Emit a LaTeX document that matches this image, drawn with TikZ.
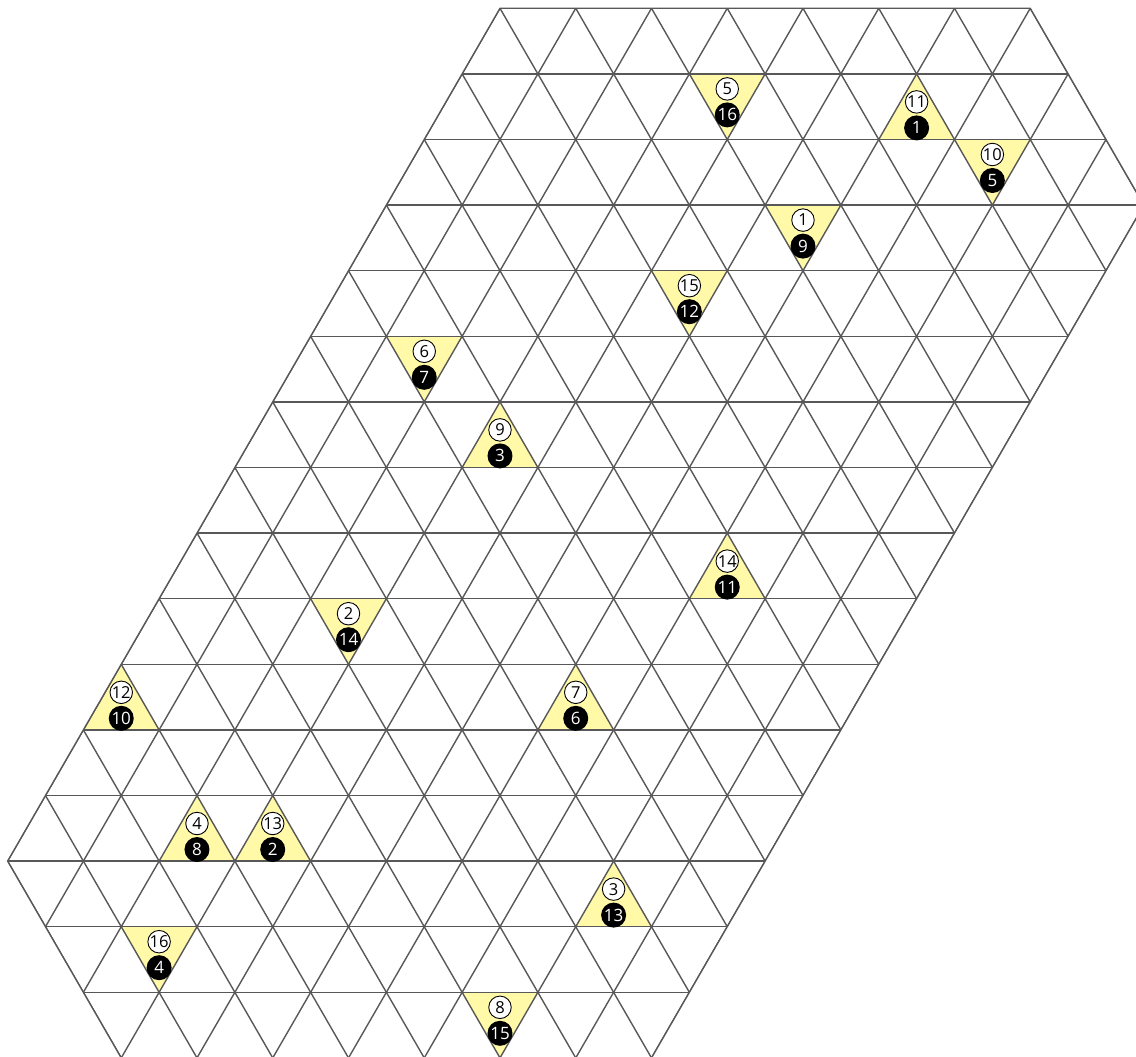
\documentclass[tikz,border=0pt]{standalone}
\usepackage{fontspec}
\setmainfont{Open Sans}
\newfontfamily\numfont{Open Sans}
\definecolor{trifill}{RGB}{255,249,168}
\definecolor{gridcol}{RGB}{88,88,88}
\tikzset{
  gridline/.style={draw=gridcol, line width=1.4pt},
  tri/.style={fill=trifill},
  wc/.style={circle, draw=black, line width=0.9pt, fill=white, minimum size=22.5pt, inner sep=0pt, font=\numfont\fontsize{16.5}{18}\selectfont},
  bc/.style={circle, fill=black, text=white, minimum size=25pt, inner sep=0pt, font=\numfont\fontsize{17}{18}\selectfont}
}
\begin{document}
\begin{tikzpicture}[x={(75.75pt,0pt)}, y={(-37.875pt,-65.6pt)}]
\path[use as bounding box] (-500pt,8.3pt) rectangle (636pt,-1048.7pt);
\coordinate (V1) at (0,0);
\coordinate (V2) at (7,0);
\coordinate (V3) at (10,3);
\coordinate (V4) at (10,16);
\coordinate (V5) at (3,16);
\coordinate (V6) at (0,13);
% yellow triangles
\foreach \a/\j in {3/1,7/2,5/3,4/4,1/5,2/9,2/14,7/15}
  \fill[tri] (\a,\j) -- ({\a+1},\j) -- ({\a+1},{\j+1}) -- cycle;
\foreach \a/\j in {6/1,3/6,7/8,0/10,6/10,2/12,3/12,8/13}
  \fill[tri] (\a,\j) -- (\a,{\j+1}) -- ({\a+1},{\j+1}) -- cycle;
% grid
\begin{scope}
\clip (V1)--(V2)--(V3)--(V4)--(V5)--(V6)--cycle;
\foreach \j in {0,...,16} \draw[gridline] (-10,\j) -- (25,\j);
\foreach \a in {0,...,10} \draw[gridline] (\a,-1) -- (\a,17);
\foreach \d in {-13,...,7} \draw[gridline] ({\d-1},-1) -- ({\d+17},17);
\end{scope}
\draw[gridline, line join=miter] (V1)--(V2)--(V3)--(V4)--(V5)--(V6)--cycle;
% labels, down triangles
\foreach \a/\j/\w/\b [count=\k] in {3/1/5/16,7/2/10/5,5/3/1/9,4/4/15/12,1/5/6/7,2/9/2/14,2/14/16/4,7/15/8/15}{
  \node[wc] (dw\k) at ([yshift=-15pt]{\a+0.5},\j) {\w};
  \node[bc] (db\k) at ([yshift=-41pt]{\a+0.5},\j) {\b};
}
% labels, up triangles
\foreach \a/\j/\w/\b [count=\k] in {6/1/11/1,3/6/9/3,7/8/14/11,0/10/12/10,6/10/7/6,2/12/4/8,3/12/13/2,8/13/3/13}{
  \node[wc] (uw\k) at ([yshift=-28pt]\a,\j) {\w};
  \node[bc] (ub\k) at ([yshift=-54pt]\a,\j) {\b};
}
\end{tikzpicture}
\end{document}
